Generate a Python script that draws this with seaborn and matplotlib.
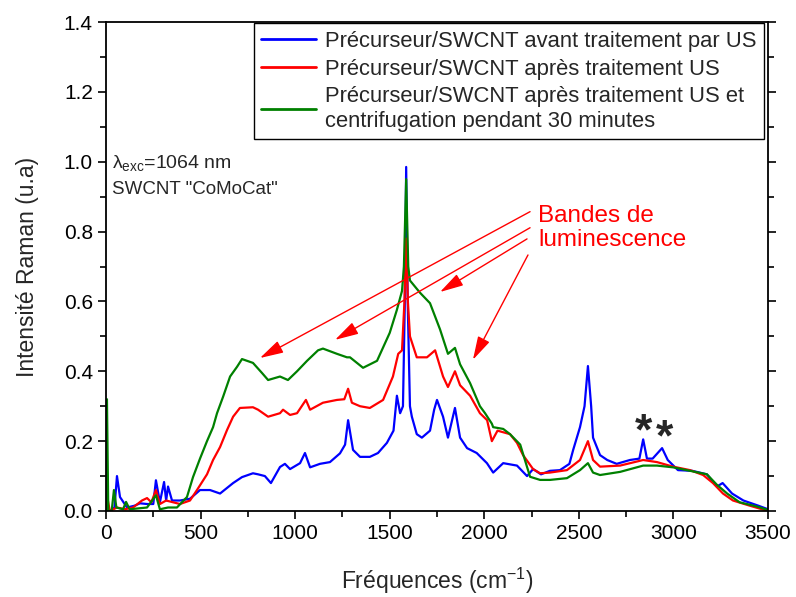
import matplotlib
matplotlib.use("Agg")
import matplotlib.pyplot as plt
import seaborn as sns
import pandas as pd
from matplotlib.ticker import MultipleLocator

sns.set_theme(style="ticks")
plt.rcParams['font.family'] = ['Liberation Sans', 'DejaVu Sans']
plt.rcParams['mathtext.fontset'] = 'custom'
plt.rcParams['mathtext.rm'] = 'Liberation Sans'
plt.rcParams['mathtext.it'] = 'Liberation Sans:italic'

# --- data (cm-1, intensity) ---
blue_x = [0, 20, 45, 58, 74, 111, 150, 180, 217, 250, 264, 285, 307, 318, 328, 349, 391, 444,
          497, 550, 603, 672, 719, 777, 804, 840, 872, 920, 946, 973, 1026, 1052, 1079, 1131,
          1184, 1237, 1264, 1280, 1306, 1343, 1395, 1438, 1485, 1520, 1538, 1555, 1570, 1580,
          1587, 1595, 1607, 1617, 1643, 1670, 1713, 1735, 1750, 1782, 1808, 1845, 1872, 1909,
          1960, 2014, 2047, 2100, 2173, 2226, 2258, 2300, 2347, 2400, 2450, 2470, 2506, 2530,
          2548, 2565, 2575, 2612, 2650, 2700, 2770, 2820, 2840, 2860, 2890, 2915, 2940, 2970,
          3024, 3100, 3177, 3230, 3260, 3310, 3370, 3450, 3500]
blue_y = [0.0, 0.0, 0.01, 0.10, 0.04, 0.01, 0.015, 0.022, 0.02, 0.02, 0.088, 0.025, 0.083, 0.03,
          0.07, 0.03, 0.03, 0.035, 0.06, 0.06, 0.05, 0.08, 0.097, 0.108, 0.105, 0.10, 0.08, 0.126,
          0.135, 0.12, 0.137, 0.166, 0.125, 0.135, 0.14, 0.165, 0.19, 0.26, 0.175, 0.155, 0.155,
          0.166, 0.195, 0.23, 0.33, 0.28, 0.30, 0.6, 0.985, 0.6, 0.30, 0.27, 0.22, 0.21, 0.23,
          0.29, 0.318, 0.27, 0.21, 0.295, 0.21, 0.18, 0.166, 0.137, 0.11, 0.137, 0.13, 0.10, 0.12,
          0.105, 0.115, 0.117, 0.135, 0.175, 0.24, 0.30, 0.415, 0.30, 0.21, 0.16, 0.146, 0.135,
          0.146, 0.15, 0.205, 0.15, 0.15, 0.165, 0.18, 0.146, 0.117, 0.115, 0.105, 0.07, 0.08,
          0.05, 0.03, 0.015, 0.005]

red_x = [0, 10, 20, 58, 100, 143, 190, 217, 240, 264, 285, 318, 391, 444, 481, 534, 566, 603,
         640, 672, 708, 777, 804, 857, 920, 936, 973, 1010, 1057, 1079, 1147, 1221, 1260, 1280,
         1300, 1343, 1395, 1465, 1517, 1545, 1565, 1578, 1587, 1596, 1607, 1643, 1697, 1740,
         1782, 1808, 1845, 1872, 1925, 1977, 2015, 2040, 2070, 2136, 2173, 2205, 2258, 2295,
         2347, 2437, 2506, 2548, 2575, 2612, 2718, 2840, 2913, 2998, 3088, 3157, 3209, 3262,
         3315, 3405, 3500]
red_y = [0.0, 0.03, 0.0, 0.01, 0.005, 0.01, 0.03, 0.037, 0.025, 0.06, 0.02, 0.03, 0.02, 0.03,
         0.06, 0.105, 0.146, 0.183, 0.232, 0.27, 0.295, 0.297, 0.29, 0.27, 0.28, 0.29, 0.275,
         0.28, 0.318, 0.29, 0.31, 0.318, 0.32, 0.35, 0.31, 0.30, 0.295, 0.318, 0.385, 0.45, 0.46,
         0.6, 0.78, 0.6, 0.50, 0.44, 0.44, 0.46, 0.385, 0.355, 0.40, 0.36, 0.33, 0.28, 0.26, 0.20,
         0.23, 0.22, 0.195, 0.16, 0.12, 0.108, 0.11, 0.117, 0.146, 0.20, 0.146, 0.127, 0.13,
         0.146, 0.14, 0.127, 0.117, 0.103, 0.08, 0.05, 0.03, 0.015, 0.0]

green_x = [0, 5, 12, 30, 42, 55, 90, 106, 125, 217, 264, 285, 328, 375, 428, 460, 497, 534, 566,
           587, 619, 656, 693, 719, 777, 825, 857, 920, 962, 1010, 1063, 1121, 1147, 1221, 1274,
           1290, 1359, 1433, 1500, 1538, 1565, 1575, 1587, 1598, 1607, 1660, 1713, 1766, 1808,
           1845, 1872, 1925, 1977, 2004, 2040, 2047, 2100, 2136, 2190, 2242, 2295, 2347, 2437,
           2506, 2548, 2575, 2612, 2718, 2840, 2913, 2998, 3088, 3177, 3230, 3284, 3350, 3440, 3500]
green_y = [0.0, 0.32, 0.0, 0.0, 0.06, 0.01, 0.005, 0.026, 0.005, 0.01, 0.045, 0.005, 0.01, 0.01,
           0.04, 0.097, 0.15, 0.20, 0.24, 0.28, 0.327, 0.385, 0.413, 0.435, 0.424, 0.395, 0.375,
           0.385, 0.375, 0.40, 0.43, 0.46, 0.465, 0.45, 0.44, 0.44, 0.41, 0.43, 0.51, 0.576, 0.63,
           0.70, 0.95, 0.70, 0.66, 0.625, 0.595, 0.52, 0.45, 0.467, 0.42, 0.366, 0.30, 0.28, 0.25,
           0.24, 0.235, 0.22, 0.19, 0.098, 0.089, 0.089, 0.094, 0.117, 0.137, 0.11, 0.103, 0.112,
           0.13, 0.13, 0.125, 0.115, 0.105, 0.075, 0.05, 0.025, 0.013, 0.003]

labels = ["Précurseur/SWCNT avant traitement par US",
          "Précurseur/SWCNT après traitement US",
          "Précurseur/SWCNT après traitement US et\ncentrifugation pendant 30 minutes"]
colors = ["#0000ff", "#ff0000", "#008000"]

# arrows: (start x, start y, end x, end y) in data units
arrows = [(2242, 0.857, 814, 0.438),
          (2242, 0.811, 1211, 0.49),
          (2226, 0.779, 1766, 0.627),
          (2231, 0.733, 1940, 0.433)]

fig = plt.figure(figsize=(7.96, 5.97), dpi=100)
ax = fig.add_axes([106/796, 86/597, 662/796, 489/597])

for xs, ys, lab, col in zip([blue_x, red_x, green_x], [blue_y, red_y, green_y], labels, colors):
    df = pd.DataFrame({"x": xs, "y": ys})
    sns.lineplot(data=df, x="x", y="y", ax=ax, color=col, lw=1.6, label=lab,
                 sort=False, estimator=None)

ax.set_xlim(0, 3500)
ax.set_ylim(0, 1.4)
ax.xaxis.set_major_locator(MultipleLocator(500))
ax.xaxis.set_minor_locator(MultipleLocator(250))
ax.yaxis.set_major_locator(MultipleLocator(0.2))
ax.yaxis.set_minor_locator(MultipleLocator(0.1))
ax.yaxis.set_major_formatter(matplotlib.ticker.FormatStrFormatter('%.1f'))
ax.tick_params(which='both', direction='out', width=1.2, colors='black', labelsize=15,
               right=True, top=False)
ax.tick_params(which='major', length=6)
ax.tick_params(which='minor', length=4)
for s in ax.spines.values():
    s.set_linewidth(1.3)
    s.set_color('black')

ax.set_xlabel("Fréquences (cm$^{-1}$)", fontsize=16.5, labelpad=16)
ax.set_ylabel("Intensité Raman (u.a)", fontsize=16.5, labelpad=18)

leg = ax.legend(loc='upper right', bbox_to_anchor=(0.994, 0.997), borderaxespad=0,
                fontsize=15.8, frameon=True, fancybox=False, framealpha=1, edgecolor='black',
                handlelength=2.5, handletextpad=0.4, borderpad=0.35, labelspacing=0.3)
leg.get_frame().set_linewidth(1.0)
for line in leg.get_lines():
    line.set_linewidth(2)

ax.text(32, 0.997, r'$\mathregular{\lambda_{exc}}$=1064 nm', fontsize=14, va='center', ha='left')
ax.text(32, 0.92, 'SWCNT "CoMoCat"', fontsize=13.5, va='center', ha='left')
ax.text(2284, 0.81, "Bandes de\nluminescence", fontsize=17.5, color='red', va='center', ha='left',
        linespacing=1.15)

for x0, y0, x1, y1 in arrows:
    ax.annotate('', xy=(x1, y1), xytext=(x0, y0),
                arrowprops=dict(arrowstyle='-|>,head_length=0.8,head_width=0.22', color='red',
                                lw=1, mutation_scale=18, shrinkA=0, shrinkB=0))

ax.text(2840, 0.225, '*', fontsize=32, fontweight='bold', ha='center', va='center')
ax.text(2950, 0.205, '*', fontsize=32, fontweight='bold', ha='center', va='center')

fig.savefig("out.png", dpi=100)
